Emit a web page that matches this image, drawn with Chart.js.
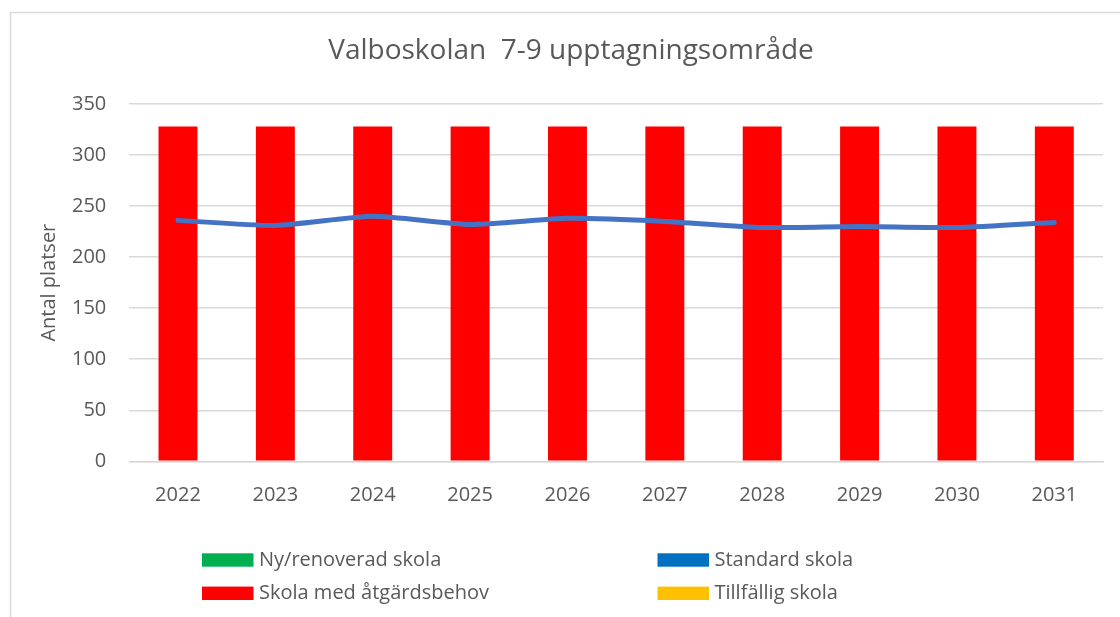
<!DOCTYPE html>
<html>
<head>
<meta charset="utf-8">
<script src="https://cdn.jsdelivr.net/npm/chart.js@4"></script>
<style>
  html, body { margin: 0; padding: 0; background: #ffffff; }
  #wrap { position: relative; width: 1120px; height: 617px; }
</style>
</head>
<body>
<div id="wrap"><canvas id="c" width="1120" height="617"></canvas></div>
<script>
// ---- data ----
const titleText = 'Valboskolan  7-9 upptagningsområde';
const yAxisTitle = 'Antal platser';
const categories = ['2022', '2023', '2024', '2025', '2026', '2027', '2028', '2029', '2030', '2031'];
const nyRenoverad = [0, 0, 0, 0, 0, 0, 0, 0, 0, 0];
const standardSkola = [0, 0, 0, 0, 0, 0, 0, 0, 0, 0];
const atgardsbehov = [328, 328, 328, 328, 328, 328, 328, 328, 328, 328];
const tillfallig = [0, 0, 0, 0, 0, 0, 0, 0, 0, 0];
const antalElever = [236, 231, 240, 232, 238, 235, 229, 230, 229, 234];
const yMin = 0, yMax = 350, yStep = 50;

const FONT = '"Open Sans", "Noto Sans", sans-serif';
const TEXT = '#595959';
const GRID = '#d9d9d9';

const borderPlugin = {
  id: 'frame',
  beforeDraw(chart) {
    const ctx = chart.ctx;
    ctx.save();
    ctx.fillStyle = '#ffffff';
    ctx.fillRect(0, 0, chart.width, chart.height);
    ctx.strokeStyle = GRID;
    ctx.lineWidth = 1.5;
    ctx.strokeRect(10.5, 12.5, chart.width + 50, chart.height + 50);
    ctx.restore();
  }
};

const titlePlugin = {
  id: 'frameTitle',
  afterDraw(chart) {
    const ctx = chart.ctx;
    ctx.save();
    ctx.font = '28px ' + FONT;
    ctx.fillStyle = TEXT;
    ctx.textAlign = 'center';
    ctx.textBaseline = 'middle';
    ctx.fillText(titleText, 571, 51);
    ctx.restore();
  }
};

const legendPlugin = {
  id: 'gridLegend',
  afterDraw(chart) {
    const ctx = chart.ctx;
    const items = chart.data.datasets.filter(d => d.type === 'bar');
    const colX = [202, 657.5];
    const rowY = [560, 593.3];
    ctx.save();
    ctx.font = '20px ' + FONT;
    ctx.textBaseline = 'middle';
    ctx.textAlign = 'left';
    items.forEach((d, i) => {
      const x = colX[i % 2];
      const y = rowY[Math.floor(i / 2)];
      ctx.fillStyle = d.backgroundColor;
      ctx.fillRect(x, y - 6.7, 51.5, 13.4);
      ctx.fillStyle = TEXT;
      ctx.fillText(d.label, x + 57, y);
    });
    ctx.restore();
  }
};

const barBase = { type: 'bar', stack: 'bars', order: 1, borderWidth: 0, barPercentage: 0.4, categoryPercentage: 1.0 };

new Chart(document.getElementById('c'), {
  data: {
    labels: categories,
    datasets: [
      Object.assign({}, barBase, { label: 'Ny/renoverad skola', data: nyRenoverad, backgroundColor: '#00B050' }),
      Object.assign({}, barBase, { label: 'Standard skola', data: standardSkola, backgroundColor: '#0070C0' }),
      Object.assign({}, barBase, { label: 'Skola med åtgärdsbehov', data: atgardsbehov, backgroundColor: '#FF0000' }),
      Object.assign({}, barBase, { label: 'Tillfällig skola', data: tillfallig, backgroundColor: '#FFC000' }),
      {
        type: 'line', label: 'Antal elever', data: antalElever, stack: 'line', order: 0,
        borderColor: '#4472C4', borderWidth: 5, pointRadius: 0, tension: 0.2,
        borderCapStyle: 'round', borderJoinStyle: 'round', fill: false
      }
    ]
  },
  options: {
    responsive: false,
    animation: false,
    devicePixelRatio: 1,
    layout: { padding: { left: 0, right: 17, top: 104, bottom: 0 } },
    plugins: {
      legend: { display: false },
      tooltip: { enabled: false },
      title: { display: false }
    },
    scales: {
      x: {
        stacked: true,
        grid: { display: false },
        border: { display: true, color: GRID, width: 1.5 },
        ticks: { color: TEXT, font: { family: FONT, size: 20 }, padding: 14, maxRotation: 0 },
        afterFit(scale) { scale.height = 155.7; }
      },
      y: {
        stacked: true,
        min: yMin, max: yMax,
        grid: { color: GRID, lineWidth: 1.5, drawTicks: false },
        border: { display: false },
        ticks: { stepSize: yStep, color: TEXT, font: { family: FONT, size: 20 }, padding: 23 },
        title: {
          display: true, text: yAxisTitle, color: TEXT,
          font: { family: FONT, size: 20 }, padding: { top: 37, bottom: 0 }
        },
        afterFit(scale) { scale.width = 129.3; }
      }
    }
  },
  plugins: [borderPlugin, titlePlugin, legendPlugin]
});
</script>
</body>
</html>
